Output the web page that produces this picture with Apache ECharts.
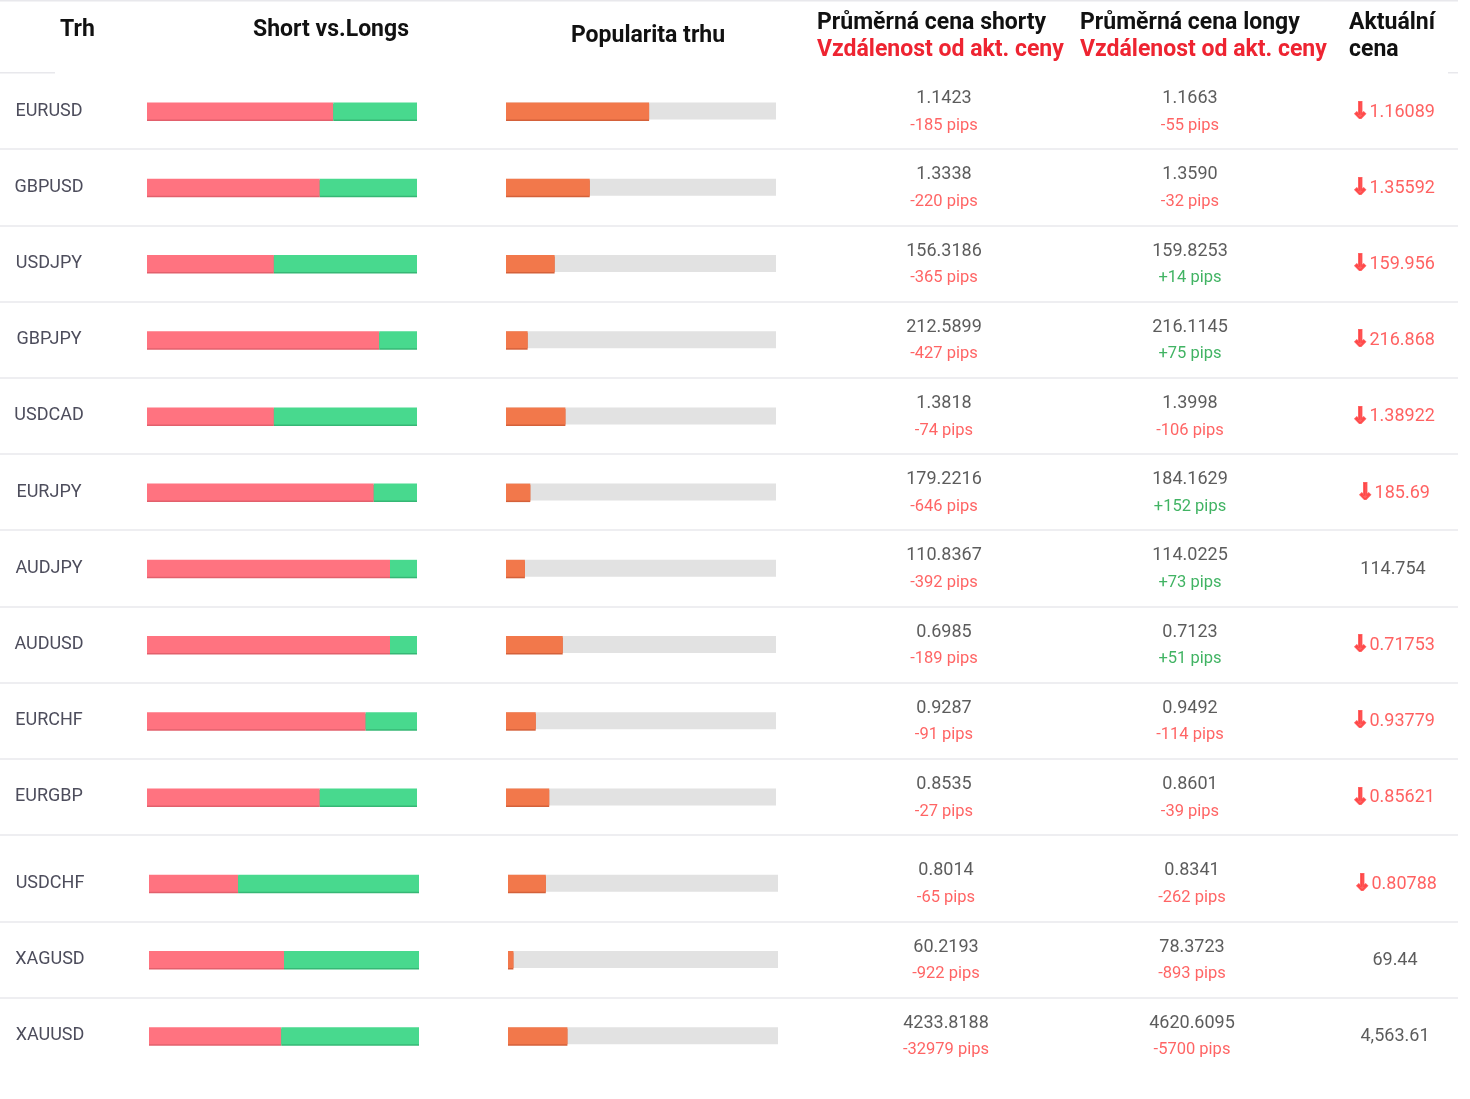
<!DOCTYPE html>
<html>
<head>
<meta charset="utf-8">
<script src="https://cdn.jsdelivr.net/npm/echarts@6/dist/echarts.min.js"></script>
<style>
  html, body { margin: 0; padding: 0; background: #fff; }
  #chart { width: 1470px; height: 1099px; }
</style>
</head>
<body>
<div id="chart"></div>
<script>
// rows of the table, top to bottom
var markets = ['EURUSD','GBPUSD','USDJPY','GBPJPY','USDCAD','EURJPY','AUDJPY','AUDUSD','EURCHF','EURGBP','USDCHF','XAGUSD','XAUUSD'];
var shortPct = [69, 64, 47, 86, 47, 84, 90, 90, 81, 64, 33, 50, 49];
var longPct  = [31, 36, 53, 14, 53, 16, 10, 10, 19, 36, 67, 50, 51];
var popularity = [53, 31, 18, 8, 22, 9, 7, 21, 11, 16, 14, 2, 22];
var shortPrice = ['1.1423','1.3338','156.3186','212.5899','1.3818','179.2216','110.8367','0.6985','0.9287','0.8535','0.8014','60.2193','4233.8188'];
var shortPips  = [-185, -220, -365, -427, -74, -646, -392, -189, -91, -27, -65, -922, -32979];
var longPrice  = ['1.1663','1.3590','159.8253','216.1145','1.3998','184.1629','114.0225','0.7123','0.9492','0.8601','0.8341','78.3723','4620.6095'];
var longPips   = [-55, -32, 14, 75, -106, 152, 73, 51, -114, -39, -262, -893, -5700];
var currentPrice = ['1.16089','1.35592','159.956','216.868','1.38922','185.69','114.754','0.71753','0.93779','0.85621','0.80788','69.44','4,563.61'];
var priceDown = [true, true, true, true, true, true, false, true, true, true, true, false, false];

var RED = '#ff7380', GREEN = '#48d98e', ORANGE = '#f2784b', GRAY = '#e2e2e2';
var LINE = '#e8e8ec', NONE = 'rgba(0,0,0,0)';
var FONT = 'Roboto';

// the screenshot is two stitched tables: first 10 rows, then 3 rows
var parts = [
  { from: 0, to: 10, top: 73, height: 762, bar: 147, pop: 506, cols: [944, 1190, 1393], nameX: 49 },
  { from: 10, to: 13, top: 845, height: 229, bar: 149, pop: 508, cols: [946, 1192, 1395], nameX: 50 }
];

var grids = [], xAxes = [], yAxes = [], series = [];

function pipsText(v) {
  return (v > 0 ? '{pos|+' + v : '{neg|' + v) + ' pips}';
}

var rich = {
  p: { color: '#333', fontSize: 18, fontFamily: FONT, lineHeight: 27 },
  neg: { color: '#ff3d3d', fontSize: 16.5, fontFamily: FONT, lineHeight: 27 },
  pos: { color: '#12a03c', fontSize: 16.5, fontFamily: FONT, lineHeight: 27 },
  arrow: { color: '#ff3a3a', fontSize: 22, fontWeight: 'bold', fontFamily: 'DejaVu Sans',
    textBorderColor: '#ff3a3a', textBorderWidth: 1.8 },
  down: { color: '#ff3a3a', fontSize: 18, fontFamily: FONT },
  flat: { color: '#333', fontSize: 18, fontFamily: FONT }
};

parts.forEach(function (part, pi) {
  var cats = markets.slice(part.from, part.to);
  var n = cats.length;
  var sl = function (arr) { return arr.slice(part.from, part.to); };

  function addGrid(left, width, xOpt, yOpt) {
    var gi = grids.length;
    grids.push({ left: left, top: part.top, width: width, height: part.height });
    xAxes.push(Object.assign({ gridIndex: gi, type: 'value', show: false }, xOpt || {}));
    yAxes.push(Object.assign({
      gridIndex: gi, type: 'category', data: cats, inverse: true,
      axisLine: { show: false }, axisTick: { show: false }, axisLabel: { show: false },
      splitLine: { show: false }
    }, yOpt || {}));
    return gi;
  }

  // full-width grid only for row separators (top edge hidden, bottom edge only on first table)
  var sepColors = [NONE];
  for (var k = 1; k < n; k++) sepColors.push(LINE);
  sepColors.push(pi === 0 ? LINE : NONE);
  addGrid(0, 1458, { min: 0, max: 1 }, {
    splitLine: { show: true, interval: 0, lineStyle: { color: sepColors, width: 1.5 } }
  });

  // short vs longs
  var g = addGrid(part.bar, 270, { min: 0, max: 100 }, {
    axisLabel: {
      show: true, align: 'center', margin: part.bar - part.nameX,
      color: '#4d4d5c', fontSize: 18, fontFamily: FONT
    }
  });
  series.push({
    type: 'bar', xAxisIndex: g, yAxisIndex: g, stack: 'sl' + pi, barWidth: 17,
    data: sl(shortPct), silent: true,
    itemStyle: { color: RED, shadowColor: '#e2606c', shadowOffsetY: 1.5, shadowBlur: 0 }
  });
  series.push({
    type: 'bar', xAxisIndex: g, yAxisIndex: g, stack: 'sl' + pi, barWidth: 17,
    data: sl(longPct), silent: true,
    itemStyle: { color: GREEN, shadowColor: '#36b775', shadowOffsetY: 1.5, shadowBlur: 0 }
  });

  // popularity
  g = addGrid(part.pop, 270, { min: 0, max: 100 });
  series.push({
    type: 'bar', xAxisIndex: g, yAxisIndex: g, barWidth: 17, silent: true,
    data: sl(popularity),
    showBackground: true, backgroundStyle: { color: GRAY },
    itemStyle: { color: ORANGE, shadowColor: '#d4613a', shadowOffsetY: 1.5, shadowBlur: 0 }
  });

  // text columns
  var texts = [
    sl(shortPrice).map(function (p, i) { return '{p|' + p + '}\n' + pipsText(shortPips[part.from + i]); }),
    sl(longPrice).map(function (p, i) { return '{p|' + p + '}\n' + pipsText(longPips[part.from + i]); }),
    sl(currentPrice).map(function (p, i) {
      return priceDown[part.from + i] ? '{arrow|↓}{down|' + p + '}' : '{flat|' + p + '}';
    })
  ];
  texts.forEach(function (col, ci) {
    var tg = addGrid(part.cols[ci] - 60, 120, { min: -1, max: 1 });
    series.push({
      type: 'scatter', xAxisIndex: tg, yAxisIndex: tg, symbolSize: 0, silent: true,
      data: col.map(function (t, i) { return { value: [0, cats[i]], txt: t }; }),
      label: {
        show: true, position: 'inside', align: 'center', verticalAlign: 'middle',
        offset: [0, 1], formatter: function (p) { return p.data.txt; }, rich: rich
      }
    });
  });
});

var hdr = 'bold 23px ' + FONT;
function htext(text, x, y, color, align) {
  return { type: 'text', x: x, y: y, silent: true,
    style: { text: text, font: hdr, fill: color || '#111', textAlign: align || 'left', textVerticalAlign: 'middle' } };
}

var myChart = echarts.init(document.getElementById('chart'));
myChart.setOption({
  backgroundColor: '#fff',
  animation: false,
  grid: grids,
  xAxis: xAxes,
  yAxis: yAxes,
  series: series,
  graphic: [
    { type: 'rect', shape: { x: 0, y: 0, width: 1458, height: 1.5 }, style: { fill: LINE }, silent: true },
    { type: 'rect', shape: { x: 0, y: 72, width: 55, height: 1.5 }, style: { fill: LINE }, silent: true },
    { type: 'rect', shape: { x: 1448, y: 72, width: 10, height: 1.5 }, style: { fill: LINE }, silent: true },
    htext('Trh', 60, 30),
    htext('Short vs.Longs', 331, 30, null, 'center'),
    htext('Popularita trhu', 648, 36, null, 'center'),
    htext('Průměrná cena shorty', 817, 23),
    htext('Vzdálenost od akt. ceny', 817, 50, '#ee2431'),
    htext('Průměrná cena longy', 1080, 23),
    htext('Vzdálenost od akt. ceny', 1080, 50, '#ee2431'),
    htext('Aktuální', 1349, 23),
    htext('cena', 1349, 50)
  ]
});
</script>
</body>
</html>
